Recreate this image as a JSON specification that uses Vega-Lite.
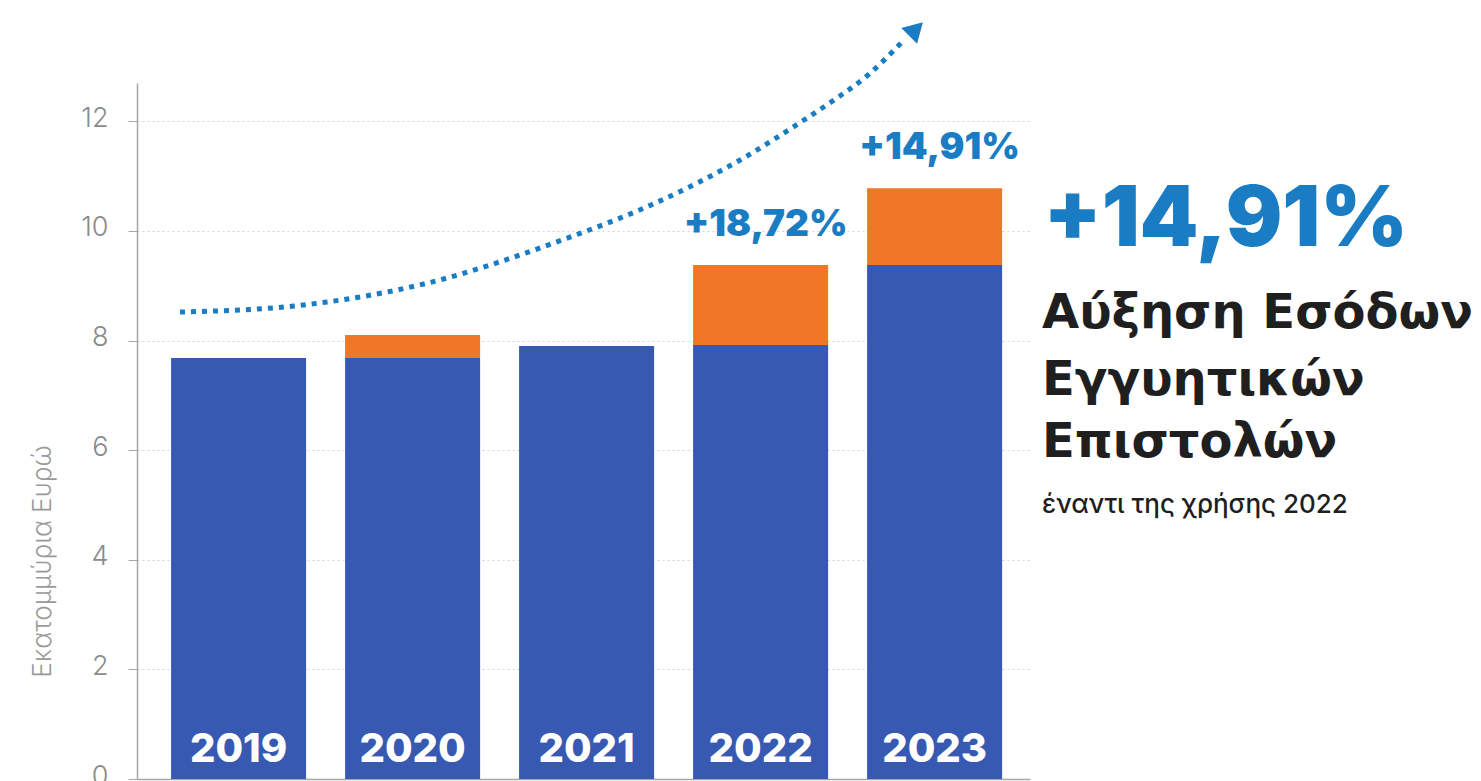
{
  "$schema": "https://vega.github.io/schema/vega-lite/v6.json",
  "width": 893,
  "height": 696,
  "autosize": "none",
  "padding": {"left": 137, "top": 83, "right": 451, "bottom": 2},
  "background": "#ffffff",
  "config": {
    "view": {"stroke": null},
    "font": "Inter"
  },
  "datasets": {
    "revenue": [
      {"year": "2019", "segment": "Βάση", "value": 7.68},
      {"year": "2019", "segment": "Αύξηση", "value": 0},
      {"year": "2020", "segment": "Βάση", "value": 7.68},
      {"year": "2020", "segment": "Αύξηση", "value": 0.42},
      {"year": "2021", "segment": "Βάση", "value": 7.90},
      {"year": "2021", "segment": "Αύξηση", "value": 0},
      {"year": "2022", "segment": "Βάση", "value": 7.92},
      {"year": "2022", "segment": "Αύξηση", "value": 1.46},
      {"year": "2023", "segment": "Βάση", "value": 9.38},
      {"year": "2023", "segment": "Αύξηση", "value": 1.40}
    ],
    "years": [
      {"year": "2019"}, {"year": "2020"}, {"year": "2021"}, {"year": "2022"}, {"year": "2023"}
    ],
    "growth": [
      {"year": "2022", "total": 9.38, "label": "+18,72%"},
      {"year": "2023", "total": 10.78, "label": "+14,91%"}
    ],
    "trend": [
      {"t": 2018.664, "v": 8.521},
      {"t": 2019.319, "v": 8.631},
      {"t": 2020.089, "v": 9.051},
      {"t": 2020.859, "v": 9.835},
      {"t": 2021.371, "v": 10.474},
      {"t": 2021.883, "v": 11.295},
      {"t": 2022.267, "v": 12.061},
      {"t": 2022.423, "v": 12.390},
      {"t": 2022.618, "v": 12.846},
      {"t": 2022.808, "v": 13.430}
    ],
    "head": [
      {"t": 2022.894, "v": 13.685}
    ],
    "notes": [
      {"t": 2023.626, "v": 9.72, "text": "+14,91%", "kind": "big"},
      {"t": 2023.618, "v": 8.225, "text": "Αύξηση Εσόδων", "kind": "bold"},
      {"t": 2023.618, "v": 7.003, "text": "Εγγυητικών", "kind": "bold"},
      {"t": 2023.618, "v": 5.873, "text": "Επιστολών", "kind": "bold"},
      {"t": 2023.618, "v": 4.851, "text": "έναντι της χρήσης 2022", "kind": "small"}
    ]
  },
  "layer": [
    {
      "encoding": {
        "x": {
          "field": "year",
          "type": "ordinal",
          "sort": ["2019", "2020", "2021", "2022", "2023"],
          "scale": {"paddingInner": 0.224, "paddingOuter": 0.178, "align": 0.55},
          "axis": {
            "title": null,
            "labels": false,
            "ticks": false,
            "domainColor": "#a6a6a6",
            "domainWidth": 1.5
          }
        }
      },
      "layer": [
        {
          "data": {"name": "revenue"},
          "mark": {"type": "bar"},
          "encoding": {
            "y": {
              "field": "value",
              "type": "quantitative",
              "stack": "zero",
              "scale": {"domain": [0, 12.7], "nice": false},
              "axis": {
                "title": "Εκατομμύρια Ευρώ",
                "titleFont": "Inter",
                "titleFontWeight": 300,
                "titleFontSize": 26,
                "titleColor": "#9a9a9a",
                "titleX": -82,
                "titleY": 478,
                "values": [0, 2, 4, 6, 8, 10, 12],
                "format": "d",
                "labelFont": "Inter",
                "labelFontWeight": 300,
                "labelFontSize": 27,
                "labelColor": "#8a8a8a",
                "labelBaseline": "alphabetic",
                "labelOffset": 5,
                "labelPadding": 20,
                "tickSize": 9,
                "tickColor": "#a6a6a6",
                "domainColor": "#a6a6a6",
                "domainWidth": 1.5,
                "grid": true,
                "gridColor": "#d4d4d4",
                "gridDash": [2, 3],
                "gridWidth": 1
              }
            },
            "color": {
              "field": "segment",
              "type": "nominal",
              "scale": {"domain": ["Βάση", "Αύξηση"], "range": ["#3759B2", "#F07727"]},
              "legend": null
            },
            "order": {"field": "segment", "sort": "descending"}
          }
        },
        {
          "data": {"name": "years"},
          "mark": {
            "type": "text",
            "font": "Inter",
            "fontWeight": 800,
            "fontSize": 40,
            "color": "#ffffff",
            "baseline": "alphabetic",
            "dy": -17
          },
          "encoding": {
            "text": {"field": "year"},
            "y": {"datum": 0, "type": "quantitative"}
          }
        },
        {
          "data": {"name": "growth"},
          "mark": {
            "type": "text",
            "font": "Inter",
            "fontWeight": 900,
            "fontSize": 37,
            "color": "#1A7DC4",
            "baseline": "alphabetic",
            "dx": 5,
            "dy": -29
          },
          "encoding": {
            "text": {"field": "label"},
            "y": {"field": "total", "type": "quantitative"}
          }
        }
      ]
    },
    {
      "encoding": {
        "x": {
          "field": "t",
          "type": "quantitative",
          "scale": {"domain": [2018.417, 2023.549], "nice": false, "zero": false},
          "axis": null
        },
        "y": {"field": "v", "type": "quantitative"}
      },
      "layer": [
        {
          "data": {"name": "trend"},
          "mark": {
            "type": "line",
            "interpolate": "monotone",
            "color": "#1A7DC4",
            "strokeWidth": 5,
            "strokeDash": [5, 6],
            "strokeCap": "butt",
            "clip": false
          },
          "encoding": {}
        },
        {
          "data": {"name": "head"},
          "mark": {
            "type": "point",
            "shape": "triangle-up",
            "angle": 45,
            "filled": true,
            "opacity": 1,
            "size": 500,
            "color": "#1A7DC4",
            "clip": false
          },
          "encoding": {}
        },
        {
          "data": {"name": "notes"},
          "transform": [{"filter": "datum.kind === 'big'"}],
          "mark": {
            "type": "text",
            "align": "left",
            "baseline": "alphabetic",
            "font": "Inter",
            "fontWeight": 900,
            "fontSize": 84,
            "color": "#1A7DC4"
          },
          "encoding": {"text": {"field": "text"}}
        },
        {
          "data": {"name": "notes"},
          "transform": [{"filter": "datum.kind === 'bold'"}],
          "mark": {
            "type": "text",
            "align": "left",
            "baseline": "alphabetic",
            "font": "DejaVu Sans",
            "fontWeight": "bold",
            "fontSize": 48,
            "color": "#1f1f1f"
          },
          "encoding": {"text": {"field": "text"}}
        },
        {
          "data": {"name": "notes"},
          "transform": [{"filter": "datum.kind === 'small'"}],
          "mark": {
            "type": "text",
            "align": "left",
            "baseline": "alphabetic",
            "font": "Inter",
            "fontWeight": 500,
            "fontSize": 26,
            "color": "#1f1f1f"
          },
          "encoding": {"text": {"field": "text"}}
        }
      ]
    }
  ],
  "resolve": {"scale": {"x": "independent"}, "axis": {"x": "independent"}}
}
